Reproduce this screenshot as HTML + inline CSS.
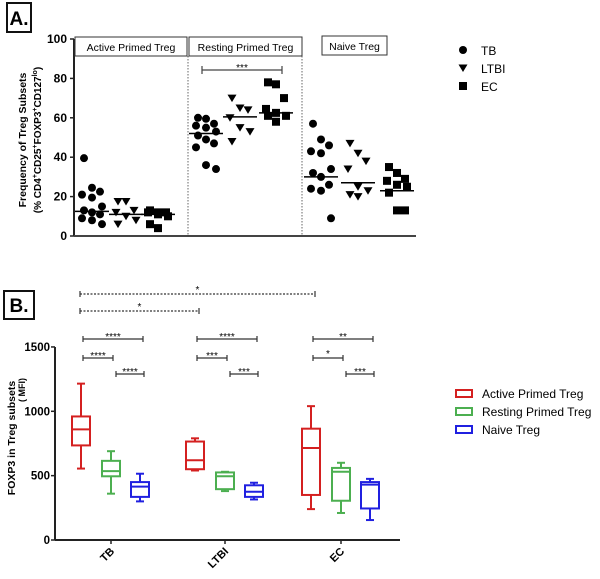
<!DOCTYPE html>
<html><head><meta charset="utf-8"><style>
body{margin:0;background:#fff;width:600px;height:574px;overflow:hidden;font-family:"Liberation Sans",sans-serif}
svg text{font-family:"Liberation Sans",sans-serif}
</style></head><body>
<svg id="chart" width="600" height="574" viewBox="0 0 600 574" xmlns="http://www.w3.org/2000/svg">
<g><rect x="7" y="3" width="24" height="29" fill="none" stroke="#111" stroke-width="2"/><text x="19" y="25" font-size="19" font-weight="bold" text-anchor="middle">A.</text></g>
<g><rect x="4" y="291" width="30" height="28" fill="none" stroke="#111" stroke-width="2"/><text x="19" y="312" font-size="19" font-weight="bold" text-anchor="middle">B.</text></g>
<g id="ga"></g><g id="gb"></g>
</svg>
<script>
// ---- Panel A data ----
const subsetsA = ["Active  Primed Treg","Resting  Primed Treg","Naive  Treg"];
const groupsA = ["TB","LTBI","EC"];
const activeTB=[39.5,24.5,22.5,21,19.5,15,13,12,11,9,8,6];
const activeLTBI=[17.5,17.5,13,12,10,8,6];
const activeEC=[13,12,12,12,11,10,6,4];
const restingTB=[60,59.5,57,56,55,53,51,49,47,45,36,34];
const restingLTBI=[70,65,64,60,55,53,48];
const restingEC=[78,77,70,64.5,62.5,61,61,58];
const naiveTB=[57,49,46,43,42,34,32,30,26,24,23,9];
const naiveLTBI=[47,42,38,34,25,23,21,20];
const naiveEC=[35,32,29,28,26,25,22,13,13];
const mediansA=[12.5,11,11,52,60.5,62.5,30,27,23];
const ticksA=[0,20,40,60,80,100];
// ---- Panel B data ----
const catsB=["TB","LTBI","EC"];
const seriesB=["Active Primed Treg","Resting Primed Treg","Naive Treg"];
const colorsB=["#d42020","#4caf50","#2020e0"];
const activeBox=[[555,735,860,960,1215],[540,550,620,765,790],[240,350,715,865,1040]];
const restingBox=[[360,495,535,615,690],[380,395,495,525,530],[210,305,530,560,600]];
const naiveBox=[[300,335,415,450,515],[315,335,375,425,445],[155,245,430,450,475]];
const ticksB=[0,500,1000,1500];
const sigLabelsB=["****","****","****","****","***","***","**","*","***"];

const NS="http://www.w3.org/2000/svg";
function mk(p,t,a){const e=document.createElementNS(NS,t);for(const k in a)e.setAttribute(k,a[k]);p.appendChild(e);return e;}
const ga=document.getElementById('ga'), gb=document.getElementById('gb');

// Panel A axes
const yA=v=>236-v*1.97;
const xA=i=>[92,126,158,206,240,276,321,358,397][i];
let ax=mk(ga,'line',{x1:74,y1:yA(100),x2:74,y2:236,stroke:'#222','stroke-width':2});

let bx=mk(ga,'line',{x1:74,y1:236,x2:416,y2:236,stroke:'#444','stroke-width':2});

ticksA.forEach(t=>{mk(ga,'line',{x1:70,x2:74,y1:yA(t),y2:yA(t),stroke:'#222','stroke-width':1.5});
 const tx=mk(ga,'text',{x:67,y:yA(t)+4,'font-size':12,'font-weight':'bold','text-anchor':'end'});tx.textContent=t;
 });
const yt=mk(ga,'text',{transform:'translate(26,140) rotate(-90)','font-size':10.5,'font-weight':'bold','text-anchor':'middle'});
yt.textContent='Frequency of Treg Subsets';
const yt2=mk(ga,'text',{transform:'translate(41,140) rotate(-90)','font-size':10,'font-weight':'bold','text-anchor':'middle'});
yt2.innerHTML='(% CD4<tspan font-size="7" dy="-4">+</tspan><tspan dy="4">CD25</tspan><tspan font-size="7" dy="-4">+</tspan><tspan dy="4">FOXP3</tspan><tspan font-size="7" dy="-4">+</tspan><tspan dy="4">CD127</tspan><tspan font-size="7" dy="-4">lo</tspan><tspan dy="4">)</tspan>';

[188,302].forEach(x=>{mk(ga,'line',{x1:x,x2:x,y1:56,y2:236,stroke:'#666','stroke-dasharray':'1.5,1.5'});});
[[75,187],[189,302]].forEach((r,i)=>{const g=mk(ga,'g',{});
 mk(g,'rect',{x:r[0],y:37,width:r[1]-r[0],height:19,fill:'#fff',stroke:'#333'});
 const t=mk(g,'text',{x:(r[0]+r[1])/2,y:51,'font-size':10.5,'text-anchor':'middle'});t.textContent=subsetsA[i];});
{const g=mk(ga,'g',{});
 mk(g,'rect',{x:322,y:36,width:65,height:19,fill:'#fff',stroke:'#333'});
 const t=mk(g,'text',{x:354.5,y:50,'font-size':10.5,'text-anchor':'middle'});t.textContent=subsetsA[2];}
function marker(g,shape,x,y){if(shape==0)return mk(g,'circle',{cx:x,cy:y,r:4,fill:'#000'});
 if(shape==1)return mk(g,'path',{d:`M${x-4.5},${y-3.5}L${x+4.5},${y-3.5}L${x},${y+4}Z`,fill:'#000'});
 return mk(g,'rect',{x:x-4,y:y-4,width:8,height:8,fill:'#000'});}
const allA=[activeTB,activeLTBI,activeEC,restingTB,restingLTBI,restingEC,naiveTB,naiveLTBI,naiveEC];
allA.forEach((arr,i)=>{const cx=xA(i);const shape=i%3;
 arr.forEach((v,j)=>{const off=((j%3)-1)*10*((j%2)?1:0.8);
  const m=marker(ga,shape,cx+off,yA(v));
  });
 const l=mk(ga,'line',{x1:cx-17,x2:cx+17,y1:yA(mediansA[i]),y2:yA(mediansA[i]),stroke:'#000','stroke-width':1.5});
 });
{const g=mk(ga,'g',{stroke:'#444','stroke-width':1.2});
 mk(g,'line',{x1:202,x2:282,y1:70,y2:70});mk(g,'line',{x1:202,x2:202,y1:66,y2:74});mk(g,'line',{x1:282,x2:282,y1:66,y2:74});
 const t=mk(ga,'text',{x:242,y:71,'font-size':10,'text-anchor':'middle'});t.textContent='***';}
groupsA.forEach((gname,i)=>{const y=50+i*18;const g=mk(ga,'g',{});
 marker(g,i,463,y);const t=mk(g,'text',{x:481,y:y+5,'font-size':12});t.textContent=gname;});

// Panel B
const yB=v=>540-v*0.1287;
const xC=i=>[81,195,311][i];
const off=[0,30,59];
let ay=mk(gb,'line',{x1:55,y1:yB(1500),x2:55,y2:540,stroke:'#222','stroke-width':2});

let axb=mk(gb,'line',{x1:55,y1:540,x2:400,y2:540,stroke:'#222','stroke-width':2});

ticksB.forEach(t=>{mk(gb,'line',{x1:51,x2:55,y1:yB(t),y2:yB(t),stroke:'#222','stroke-width':1.5});
 const tx=mk(gb,'text',{x:50,y:yB(t)+4,'font-size':11.5,'font-weight':'bold','text-anchor':'end'});tx.textContent=t;
 });
catsB.forEach((c,i)=>{const x=xC(i)+30;mk(gb,'line',{x1:x,x2:x,y1:540,y2:544,stroke:'#222','stroke-width':1.5});
 const t=mk(gb,'text',{transform:`translate(${x+4},${552}) rotate(-45)`,'font-size':11,'font-weight':'bold','text-anchor':'end'});t.textContent=c;
 });
const ytb=mk(gb,'text',{transform:'translate(15,438) rotate(-90)','font-size':10.5,'font-weight':'bold','text-anchor':'middle'});
ytb.textContent='FOXP3 in Treg subsets';
const ytb2=mk(gb,'text',{transform:'translate(25,390) rotate(-90)','font-size':9,'font-weight':'bold','text-anchor':'middle'});
ytb2.textContent='( MFI)';
[activeBox,restingBox,naiveBox].forEach((s,si)=>{s.forEach((b,ci)=>{const x=xC(ci)+off[si];const col=colorsB[si];
 const g=mk(gb,'g',{stroke:col,'stroke-width':2,fill:'none'});
 
 mk(g,'line',{x1:x,x2:x,y1:yB(b[4]),y2:yB(b[3])});mk(g,'line',{x1:x,x2:x,y1:yB(b[1]),y2:yB(b[0])});
 mk(g,'line',{x1:x-4,x2:x+4,y1:yB(b[4]),y2:yB(b[4])});mk(g,'line',{x1:x-4,x2:x+4,y1:yB(b[0]),y2:yB(b[0])});
 mk(g,'rect',{x:x-9,y:yB(b[3]),width:18,height:yB(b[1])-yB(b[3])});
 mk(g,'line',{x1:x-9,x2:x+9,y1:yB(b[2]),y2:yB(b[2])});});});
function sig(x1,x2,y,lab,dash){const g=mk(gb,'g',{stroke:'#333','stroke-width':1.2});
 
 const a={x1:x1,x2:x2,y1:y,y2:y};if(dash)a['stroke-dasharray']='2,1.5';mk(g,'line',a);
 mk(g,'line',{x1:x1,x2:x1,y1:y-3,y2:y+3});mk(g,'line',{x1:x2,x2:x2,y1:y-3,y2:y+3});
 const t=mk(gb,'text',{x:(x1+x2)/2,y:y+(lab.length>1?1:-1),'font-size':10,'text-anchor':'middle'});t.textContent=lab;}
sig(80,315,294,'*',true);sig(80,199,311,'*',true);
catsB.forEach((c,i)=>{const x=xC(i);
 sig(x+2,x+62,339,sigLabelsB[i*3],false);sig(x+2,x+32,358,sigLabelsB[i*3+1],false);sig(x+35,x+63,374,sigLabelsB[i*3+2],false);});
seriesB.forEach((s,i)=>{const y=394+i*18;const g=mk(gb,'g',{});
 mk(g,'rect',{x:456,y:y-4,width:16,height:7,fill:'none',stroke:colorsB[i],'stroke-width':2});
 const t=mk(g,'text',{x:482,y:y+4,'font-size':12});t.textContent=s;});
</script>
</body></html>
